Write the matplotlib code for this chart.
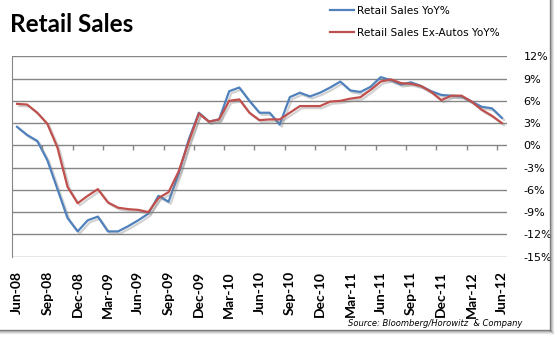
import numpy as np
import matplotlib.pyplot as plt
from matplotlib import patheffects as pe
from matplotlib.lines import Line2D
from matplotlib.ticker import FuncFormatter

# monthly YoY %, Jun-08 .. Jun-12
retail = [2.5, 1.4, 0.6, -2.0, -5.9, -9.8, -11.6, -10.1, -9.6, -11.6, -11.6, -10.9,
          -10.1, -9.2, -6.8, -7.6, -3.8, 0.8, 4.4, 3.2, 3.5, 7.3, 7.8, 6.0,
          4.4, 4.4, 2.8, 6.5, 7.1, 6.6, 7.1, 7.8, 8.6, 7.4, 7.2, 7.9,
          9.2, 8.8, 8.2, 8.5, 8.0, 7.3, 6.8, 6.7, 6.6, 5.9, 5.2, 5.0, 3.7]
ex_autos = [5.6, 5.5, 4.4, 2.9, -0.3, -5.6, -7.8, -6.8, -5.9, -7.7, -8.4, -8.6,
            -8.7, -9.0, -7.1, -6.3, -3.5, 0.5, 4.3, 3.2, 3.5, 6.0, 6.2, 4.4,
            3.4, 3.5, 3.5, 4.4, 5.3, 5.3, 5.3, 5.9, 6.0, 6.3, 6.5, 7.5,
            8.6, 8.9, 8.4, 8.3, 8.0, 7.2, 6.1, 6.7, 6.7, 5.9, 4.8, 4.0, 3.0]
tick_labels = ['Jun-08', 'Sep-08', 'Dec-08', 'Mar-09', 'Jun-09', 'Sep-09', 'Dec-09',
               'Mar-10', 'Jun-10', 'Sep-10', 'Dec-10', 'Mar-11', 'Jun-11', 'Sep-11',
               'Dec-11', 'Mar-12', 'Jun-12']
yticks = np.arange(-15, 13, 3)

blue = '#4F81BD'
red = '#C0504D'
grid = '#868686'

x = np.arange(len(retail))

fig = plt.figure(figsize=(5.6, 3.39), dpi=100)
ax = fig.add_axes([12/560, 1 - 257/339, 495/560, 201/339])

shadow = [pe.SimpleLineShadow(offset=(1.5, -1.5), shadow_color='gray', alpha=0.35), pe.Normal()]
ax.plot(x, retail, color=blue, lw=1.6, path_effects=shadow)
ax.plot(x, ex_autos, color=red, lw=1.6, path_effects=shadow)

ax.set_xlim(-0.5, 48.5)
ax.set_ylim(-15.05, 12.05)
ax.set_yticks(yticks)
ax.yaxis.grid(True, color=grid, lw=1)
ax.set_axisbelow(True)
for s in ['top', 'right', 'bottom']:
    ax.spines[s].set_visible(False)
ax.spines['left'].set_color(grid)
ax.yaxis.tick_right()
ax.yaxis.set_major_formatter(FuncFormatter(lambda v, p: f'{v:.0f}%'))
ax.tick_params(axis='y', length=0, pad=12, labelsize=8, labelcolor='black')

ax.set_xticks(np.arange(0, 49, 3))
ax.set_xticklabels(tick_labels, rotation=90, fontweight='bold', family='Lato', fontsize=10)
ax.tick_params(axis='x', length=0, pad=10)
# small tick marks on the zero line
ax.vlines(np.arange(2.5, 48, 3), -0.68, 0, color=grid, lw=1)

handles = [Line2D([], [], color=blue, lw=1.6), Line2D([], [], color=red, lw=1.6)]
ax.legend(handles, ['Retail Sales YoY%', 'Retail Sales Ex-Autos YoY%'],
          loc='upper left', bbox_to_anchor=(330/560, 1 - 6/339), bbox_transform=fig.transFigure,
          frameon=False, fontsize=7.6, handlelength=2.3, handletextpad=0.3,
          labelspacing=1.1, borderpad=0, borderaxespad=0)

fig.text(10/560, 1 - 32/339, 'Retail Sales', fontsize=17.5, fontweight='bold',
         family='Lato', va='baseline')
fig.text(522/560, 1 - 324/339, 'Source: Bloomberg/Horowitz  & Company', ha='right',
         va='center', fontsize=6, style='italic')

# frame edge with a soft shadow on right and bottom
for i, a in enumerate([0.9, 0.45, 0.25, 0.12]):
    c = (0.45, 0.45, 0.45, a)
    fig.add_artist(Line2D([(550 + i)/560] * 2, [1, 1 - (330 + i)/339],
                          transform=fig.transFigure, color=c, lw=1))
    fig.add_artist(Line2D([0, (550 + i)/560], [1 - (330 + i)/339] * 2,
                          transform=fig.transFigure, color=c, lw=1))

fig.savefig('out.png', dpi=100)
